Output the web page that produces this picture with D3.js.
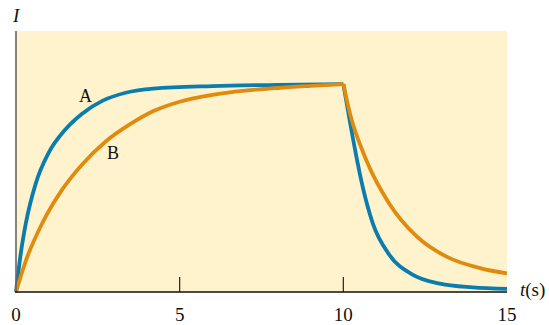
<!DOCTYPE html>
<html>
<head>
<meta charset="utf-8">
<script src="https://cdn.jsdelivr.net/npm/d3@7"></script>
<style>
  body { margin: 0; background: #fff; }
  svg text { font-family: "Liberation Serif", "DejaVu Serif", serif; fill: #111; }
</style>
</head>
<body>
<div id="chart"></div>
<script>
// values (I normalised so the plateau is 1)
const timesA = [0, 0.15, 0.3, 0.6, 1.0, 1.5, 2.0, 2.65, 3.35, 4.2, 6, 8, 10,
                10.2, 10.4, 10.6, 10.9, 11.4, 12.1, 12.95, 13.95, 15];
const currentA = [0, 0.19, 0.33, 0.52, 0.67, 0.78, 0.855, 0.92, 0.958, 0.978, 0.99, 0.996, 1,
                  0.82, 0.65, 0.5, 0.33, 0.18, 0.085, 0.04, 0.022, 0.015];

const timesB = [0, 0.3, 0.8, 1.4, 2.0, 2.75, 3.5, 4.2, 5, 6, 7, 8, 9, 10,
                10.2, 10.7, 11.4, 12.25, 13.15, 14.2, 15];
const currentB = [0, 0.15, 0.33, 0.49, 0.61, 0.725, 0.808, 0.87, 0.915, 0.948, 0.968, 0.981, 0.991, 1,
                  0.86, 0.635, 0.426, 0.266, 0.17, 0.114, 0.09];

const xTicks = [0, 5, 10, 15];

const width = 549, height = 325;
const margin = { top: 31, left: 16, bottom: 33, right: 42 };

const svg = d3.select("#chart").append("svg")
  .attr("width", width)
  .attr("height", height);

const x = d3.scaleLinear().domain([0, 15]).range([margin.left, width - margin.right]);
const y = d3.scaleLinear().domain([0, 1.255]).range([height - margin.bottom, margin.top]);

// background panel
svg.append("rect")
  .attr("x", x(0))
  .attr("y", y(1.255))
  .attr("width", x(15) - x(0))
  .attr("height", y(0) - y(1.255))
  .attr("fill", "#fef3cd");

// small inner ticks at 5 and 10
svg.append("g")
  .selectAll("line")
  .data(xTicks.filter(d => d > 0 && d < 15))
  .enter()
  .append("line")
  .attr("x1", d => x(d)).attr("x2", d => x(d))
  .attr("y1", y(0)).attr("y2", y(0) - 15)
  .attr("stroke", "#222")
  .attr("stroke-width", 1.2);

const line = d3.line()
  .x(d => x(d[0]))
  .y(d => y(d[1]))
  .curve(d3.curveMonotoneX);

const pairs = (ts, vs) => ts.map((t, i) => [t, vs[i]]);
const dataA = pairs(timesA, currentA);
const dataB = pairs(timesB, currentB);

// split at t = 10 so the corner stays sharp
const part = (data, lo, hi) => data.filter(d => d[0] >= lo && d[0] <= hi);

[[dataA, "#0b7cae"], [dataB, "#e08a0e"]].forEach(([data, color]) => {
  [part(data, 0, 10), part(data, 10, 15)].forEach(seg => {
    svg.append("path")
      .datum(seg)
      .attr("fill", "none")
      .attr("stroke", color)
      .attr("stroke-width", 3.8)
      .attr("stroke-linejoin", "round")
      .attr("d", line);
  });
});

// axes
svg.append("line")
  .attr("x1", x(0)).attr("x2", x(0))
  .attr("y1", y(0)).attr("y2", y(1.255))
  .attr("stroke", "#666")
  .attr("stroke-width", 1.6);

svg.append("line")
  .attr("x1", x(0) - 1).attr("x2", x(15))
  .attr("y1", y(0)).attr("y2", y(0))
  .attr("stroke", "#111")
  .attr("stroke-width", 1.6);

svg.append("g")
  .selectAll("text")
  .data(xTicks)
  .enter()
  .append("text")
  .attr("x", d => x(d))
  .attr("y", 321)
  .attr("text-anchor", "middle")
  .style("font-size", "19px")
  .text(d => d);

// axis titles
svg.append("text")
  .attr("x", 13)
  .attr("y", 22)
  .style("font-size", "19px")
  .style("font-style", "italic")
  .text("I");

const tt = svg.append("text")
  .attr("x", 520)
  .attr("y", 296)
  .style("font-size", "19px");
tt.append("tspan").style("font-style", "italic").text("t");
tt.append("tspan").text("(s)");

// curve labels
svg.append("text")
  .attr("x", 79)
  .attr("y", 102)
  .style("font-size", "18px")
  .text("A");

svg.append("text")
  .attr("x", 107)
  .attr("y", 159)
  .style("font-size", "18px")
  .text("B");
</script>
</body>
</html>
